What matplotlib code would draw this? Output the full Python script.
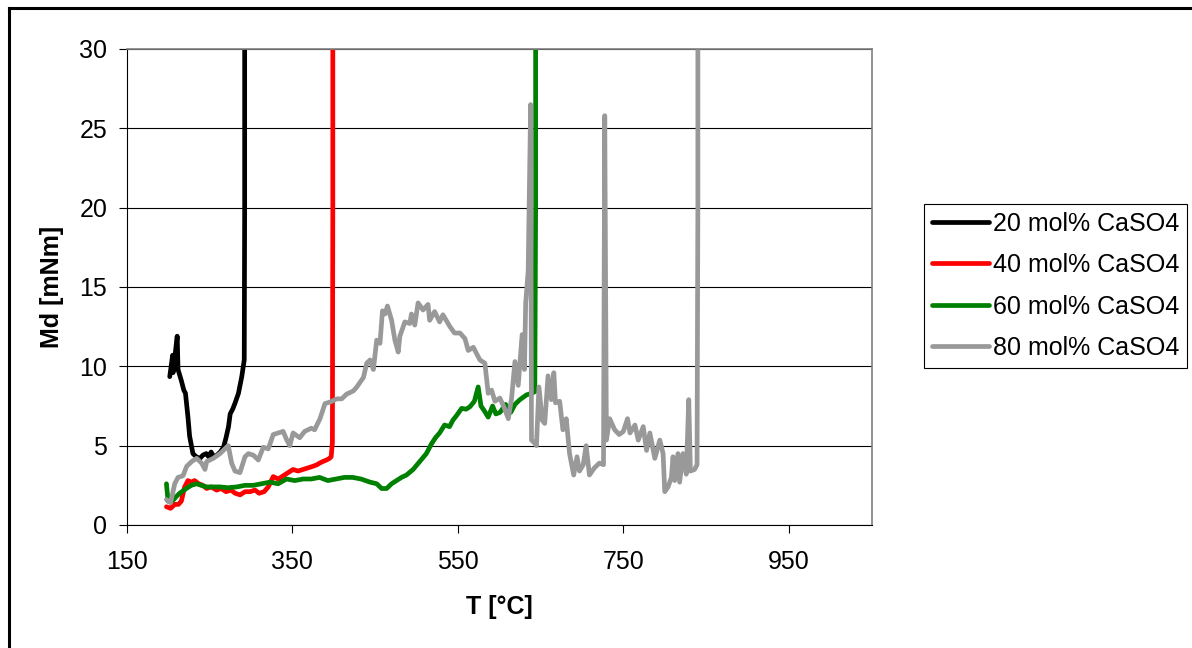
import matplotlib
matplotlib.use("Agg")
import matplotlib.pyplot as plt
from matplotlib.lines import Line2D

plt.rcParams['font.family'] = ['Liberation Sans', 'DejaVu Sans']

# ---- data ----
t20 = [202, 205.5, 206, 208, 211, 212, 216, 219, 221, 224, 226, 230, 234, 238.5, 242, 246, 249,
       252, 255, 259, 263, 267, 270, 273, 275, 278, 281, 285, 289, 292, 292.5, 292.5]
md20 = [9.35, 10.7, 9.6, 10.5, 11.9, 9.8, 9.1, 8.5, 8.3, 6.8, 5.6, 4.5, 4.3, 4.2, 4.4, 4.5, 4.3,
        4.6, 4.3, 4.4, 4.6, 4.9, 5.5, 6.2, 7.0, 7.3, 7.7, 8.3, 9.35, 10.4, 20, 35]

t40 = [198, 203, 208, 212.5, 216, 220, 224, 228, 232, 237, 242, 246.6, 252, 258.6, 264, 270, 276,
       281, 287, 293, 299, 305, 310, 316, 321, 327, 333, 339, 345, 351, 357, 363, 369, 375, 380,
       383, 387, 391.5, 395, 397, 398.5, 399, 399]
md40 = [1.15, 1.05, 1.3, 1.3, 1.5, 2.4, 2.8, 2.7, 2.8, 2.6, 2.5, 2.3, 2.4, 2.2, 2.3, 2.1, 2.2,
        2.0, 1.9, 2.1, 2.1, 2.2, 2.0, 2.1, 2.4, 3.05, 2.9, 3.1, 3.3, 3.5, 3.4, 3.5, 3.6, 3.7, 3.8,
        3.9, 4.0, 4.1, 4.2, 4.3, 5.2, 20, 35]

t60 = [198, 200, 205, 210, 214, 222, 228, 234.5, 240, 246.6, 255, 262.7, 272, 283, 293, 303, 313,
       323, 333, 343, 353, 363, 373, 383, 393, 403, 413, 423, 433, 444, 452, 458, 464, 470, 476,
       482, 488, 496, 504, 512, 518, 523, 528, 534, 540, 544, 548.5, 554.6, 560, 564.6, 570,
       574.6, 578, 582, 586.7, 592, 596, 601, 607.7, 614, 619, 625, 633, 639, 643, 644, 644]
md60 = [2.6, 1.5, 1.5, 1.8, 2.0, 2.3, 2.5, 2.6, 2.5, 2.4, 2.4, 2.4, 2.35, 2.4, 2.5, 2.5, 2.6,
        2.7, 2.6, 2.9, 2.8, 2.9, 2.9, 3.0, 2.8, 2.9, 3.0, 3.0, 2.9, 2.7, 2.6, 2.3, 2.3, 2.6, 2.8,
        3.0, 3.15, 3.5, 4.0, 4.5, 5.1, 5.5, 5.8, 6.3, 6.2, 6.6, 6.9, 7.35, 7.3, 7.45, 7.8,
        8.7, 7.5, 7.2, 6.8, 7.5, 7.0, 7.1, 7.6, 7.1, 7.6, 7.9, 8.2, 8.3, 8.4, 20, 35]

t80 = [198, 203, 208, 212, 218, 222.5, 228.5, 234.5, 240.5, 244.6, 246.6, 254.6, 262.7, 268.7,
       272.7, 276.8, 280.8, 286.8, 292.9, 297, 303, 309, 315, 321, 327, 333, 339, 343, 347, 351,
       359, 365, 373, 377, 383.5, 389.5, 395.6, 403.7, 409.7, 415.7, 423.8, 428, 436, 440, 444,
       448, 452, 456, 459, 462, 465, 470, 474, 478, 480, 486, 492, 494, 498, 502, 508, 514, 516,
       522, 528, 532, 540.5, 546, 552.6, 558.6, 562.6, 568.7, 576.7, 582.7, 586.7, 590.8, 594.8,
       600.8, 606, 611, 615, 619, 623, 627.7, 630.5, 632, 635, 638, 639, 643, 645, 648, 652, 655,
       659, 663, 666, 668, 673, 677, 681, 685, 690, 694, 697, 701.5, 705, 709, 715, 721, 726,
       727.5, 729.5, 733.5, 739.5, 745, 750, 755, 758, 764, 768, 774, 778, 782, 788, 794, 798,
       800, 804, 808, 810, 812, 816, 818, 822, 826, 829, 831, 836, 839, 840, 840]
md80 = [1.6, 1.4, 2.6, 3.0, 3.1, 3.7, 4.0, 4.2, 3.9, 3.5, 4.0, 4.2, 4.5, 4.8,
        5.0, 3.9, 3.4, 3.3, 4.3, 4.5, 4.4, 4.1, 4.9, 4.8, 5.7, 5.8, 5.9, 5.4, 5.0, 5.8,
        5.5, 5.9, 6.1, 6.0, 6.7, 7.65, 7.75, 7.95, 7.95, 8.25, 8.45, 8.7, 9.3, 10.2, 10.4,
        9.8, 11.65, 11.45, 13.5, 13.3, 13.8, 12.9, 11.65, 10.9, 11.9, 12.8, 12.7, 13.3, 12.6, 14.0, 13.55, 13.9, 12.9,
        13.45, 12.8, 13.25, 12.5, 12.1, 12.1, 11.75, 11.0, 11.2, 10.4, 10.2, 8.3, 8.5, 7.8,
        8.0, 7.4, 6.7, 8.0, 10.3, 8.8, 12.0, 9.8, 14.0, 16.0, 26.5, 5.35, 5.15, 5.0, 8.7, 6.6, 6.4,
        9.4, 7.9, 9.6, 7.7, 7.8, 6.0, 6.7, 4.5, 3.15, 4.3, 3.4, 3.8, 5.0, 3.15, 3.6, 3.9, 3.8,
        25.8, 5.35, 6.7, 6.0, 5.7, 5.9, 6.7, 5.8, 6.3, 5.35, 6.2, 4.7, 5.8, 4.2, 5.35, 4.5,
        2.1, 2.4, 3.0, 4.3, 2.8, 4.5, 2.7, 4.5, 3.2, 7.9, 3.4, 3.5, 3.8, 20, 35]

labels = ['20 mol% CaSO4', '40 mol% CaSO4', '60 mol% CaSO4', '80 mol% CaSO4']
colors = ['#000000', '#FF0000', '#008000', '#999999']
x_ticks = [150, 350, 550, 750, 950]
y_ticks = [0, 5, 10, 15, 20, 25, 30]

W, H = 1192, 648
fig = plt.figure(figsize=(W / 100, H / 100), dpi=100)
ax = fig.add_axes([126.7 / W, 1 - 525 / H, (871.7 - 126.7) / W, (525 - 49) / H])

series = [(t20, md20), (t40, md40), (t60, md60), (t80, md80)]
for (t, m), c, lab in zip(series, colors, labels):
    ax.plot(t, m, color=c, lw=3.4, label=lab, solid_joinstyle='round', solid_capstyle='round')

ax.set_xlim(150, 1050)
ax.set_ylim(0, 30)
ax.set_xticks(x_ticks)
ax.set_yticks(y_ticks)
ax.yaxis.grid(True, color='#000000', lw=0.8)
ax.set_axisbelow(True)
ax.tick_params(direction='out', length=6, width=0.8, color='#000000', labelsize=18)
ax.tick_params(axis='y', pad=8)
ax.tick_params(axis='x', pad=12)
for s in ['left', 'bottom']:
    ax.spines[s].set_color('#000000')
    ax.spines[s].set_linewidth(0.8)
for s in ['top', 'right']:
    ax.spines[s].set_color('#808080')
    ax.spines[s].set_linewidth(1.2)

ax.set_xlabel('T [°C]', fontsize=18, fontweight='bold', labelpad=15)
ax.set_ylabel('Md [mNm]', fontsize=18, fontweight='bold', labelpad=11)

leg = fig.legend(loc='upper left', bbox_to_anchor=(924 / W, 1 - 204 / H), fontsize=18,
                 frameon=True, fancybox=False, edgecolor='#000000', framealpha=1,
                 handlelength=2.3, handletextpad=0.15, labelspacing=0.7, borderpad=0.3,
                 borderaxespad=0)
leg.get_frame().set_linewidth(0.8)

# outer chart border
fig.add_artist(Line2D([8.5 / W, 1.0], [1 - 7.5 / H, 1 - 7.5 / H], color='black', lw=2.2,
                      transform=fig.transFigure))
fig.add_artist(Line2D([8.5 / W, 8.5 / W], [0, 1 - 7.5 / H], color='black', lw=2.2,
                      transform=fig.transFigure))

fig.savefig('out.png', dpi=100, facecolor='white')
